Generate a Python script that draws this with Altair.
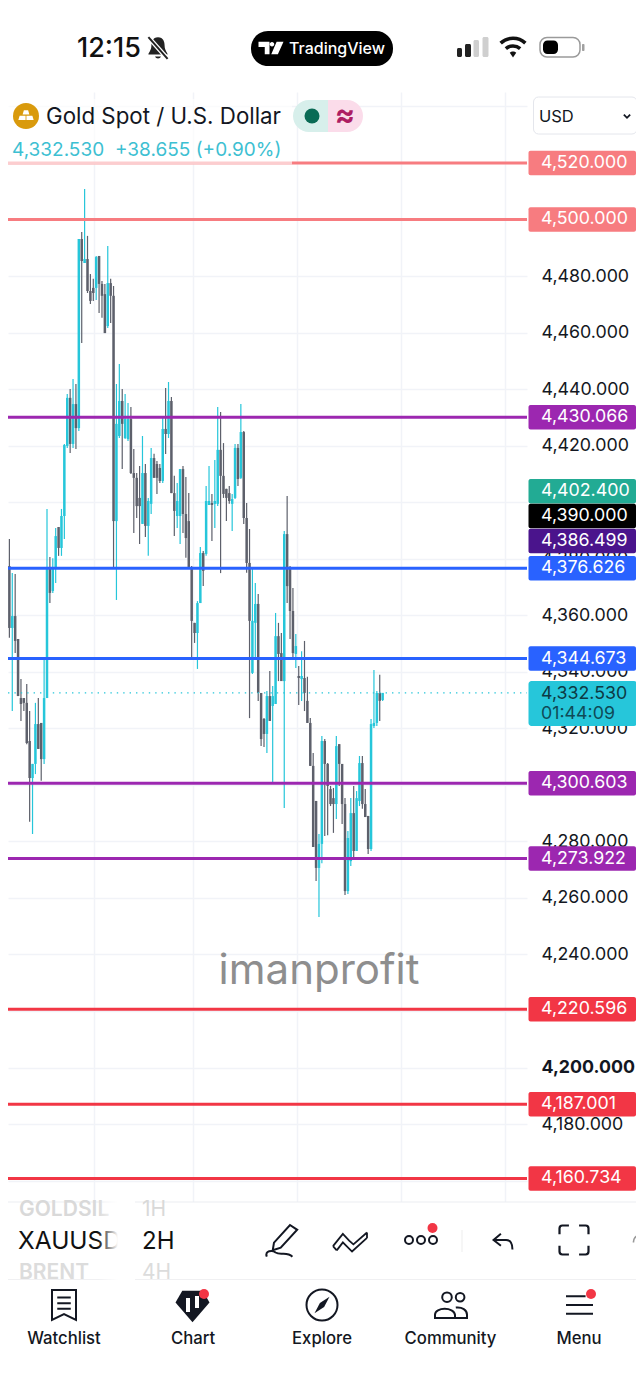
import altair as alt
import pandas as pd

FONT = "Inter"
TEAL = "#26c6da"
GRAY = "#5d606b"
INK = "#131722"

# ---- candles (2H XAUUSD)
opens = [4424.5,4430.5,4371.0,4377.4,4355.5,4359.7,4351.6,4330.7,4330.7,4329.0,4315.5,4302.4,4307.4,4321.5,4321.9,4309.1,4330.7,4376.7,4368.6,4376.4,4391.2,4383.8,4395.1,4419.9,4436.9,4420.6,4434.7,4426.2,4493.1,4484.6,4486.0,4474.7,4475.8,4475.8,4487.1,4477.2,4473.6,4462.3,4477.5,4473.0,4393.3,4423.4,4435.8,4422.7,4422.3,4429.4,4410.3,4408.6,4401.5,4392.3,4410.3,4391.6,4399.4,4415.6,4413.5,4412.1,4407.5,4425.9,4424.1,4435.8,4403.2,4395.1,4395.1,4411.7,4395.8,4393.3,4376.4,4357.3,4353.7,4364.3,4382.0,4381.7,4399.0,4399.7,4399.4,4399.4,4418.5,4409.3,4404.7,4403.2,4399.4,4401.5,4419.2,4408.6,4424.8,4394.4,4378.5,4339.6,4357.3,4364.0,4332.5,4323.3,4318.0,4331.4,4327.9,4328.6,4352.6,4346.6,4336.7,4388.7,4376.7,4361.5,4346.3,4338.5,4337.4,4337.8,4329.7,4321.9,4306.7,4294.3,4270.6,4279.1,4315.5,4307.4,4298.5,4295.3,4293.2,4314.4,4307.4,4293.2,4262.4,4273.0,4290.0,4276.6,4294.3,4307.7,4293.2,4289.0,4277.3,4320.8,4321.9,4332.5,4330.0]
highs = [4445.7,4434.7,4385.6,4387.0,4374.9,4374.6,4351.6,4337.4,4330.7,4335.7,4326.1,4307.4,4329.0,4330.7,4321.9,4344.5,4397.6,4380.6,4380.2,4390.9,4391.2,4397.6,4420.6,4438.3,4440.0,4443.6,4441.8,4493.1,4495.6,4510.8,4494.2,4480.7,4479.0,4487.1,4487.1,4478.2,4477.2,4490.6,4479.0,4476.5,4441.8,4448.9,4440.0,4438.3,4435.1,4433.7,4418.8,4410.3,4412.8,4423.4,4413.5,4401.5,4419.2,4417.1,4414.6,4413.5,4429.8,4440.4,4442.5,4437.2,4409.3,4406.8,4411.7,4412.8,4408.9,4403.2,4377.4,4357.3,4365.0,4384.1,4382.7,4405.7,4412.8,4402.9,4414.9,4433.7,4431.9,4420.9,4404.7,4405.7,4402.9,4420.6,4420.6,4434.7,4425.2,4399.7,4390.5,4376.4,4371.4,4367.5,4332.5,4323.6,4333.2,4340.3,4335.0,4360.8,4357.3,4353.7,4389.8,4402.2,4377.4,4369.6,4353.4,4342.0,4347.3,4350.9,4338.2,4323.6,4311.3,4294.3,4282.6,4317.3,4316.2,4307.7,4299.6,4298.9,4317.3,4314.4,4307.4,4295.3,4283.7,4295.3,4299.6,4297.8,4310.2,4310.2,4298.5,4289.0,4323.3,4340.6,4333.2,4338.9,4332.5]
lows = [4423.4,4369.3,4364.0,4352.0,4326.1,4346.6,4331.4,4322.6,4326.1,4314.4,4286.9,4282.6,4303.8,4312.7,4301.4,4307.4,4330.7,4364.3,4367.9,4371.4,4381.0,4381.0,4387.0,4419.2,4417.4,4419.2,4418.8,4425.2,4456.3,4484.6,4474.0,4470.1,4471.2,4471.5,4466.9,4465.2,4459.8,4461.6,4463.4,4376.7,4365.4,4422.7,4411.7,4422.3,4421.6,4410.0,4389.1,4394.4,4385.2,4392.3,4387.7,4381.0,4395.8,4408.6,4402.9,4406.8,4406.8,4417.0,4422.7,4403.2,4388.0,4390.9,4385.2,4389.1,4380.3,4376.4,4344.5,4350.2,4341.0,4364.3,4370.3,4381.0,4399.0,4386.3,4390.9,4398.6,4374.9,4401.5,4393.3,4399.4,4389.8,4401.1,4405.7,4408.2,4392.3,4375.0,4323.6,4339.2,4344.9,4329.7,4313.7,4313.4,4311.3,4322.6,4300.3,4328.6,4336.7,4336.7,4291.8,4364.3,4351.6,4344.5,4341.3,4328.2,4329.7,4326.1,4321.9,4306.7,4278.0,4266.0,4253.2,4272.3,4281.9,4282.2,4292.5,4283.0,4287.9,4299.6,4286.1,4261.0,4261.4,4271.3,4273.8,4276.6,4292.5,4291.5,4288.6,4275.5,4276.6,4320.1,4320.8,4322.6,4329.7]
closes = [4434.0,4372.1,4378.1,4355.5,4359.7,4350.9,4331.4,4328.6,4329.0,4314.8,4302.4,4307.4,4321.5,4312.7,4309.1,4330.7,4376.4,4367.9,4376.4,4388.0,4383.8,4395.1,4420.2,4436.9,4420.6,4434.7,4426.2,4493.1,4485.3,4486.0,4474.7,4471.2,4474.0,4486.7,4477.2,4473.0,4459.8,4477.5,4473.0,4393.3,4427.7,4435.8,4427.7,4429.4,4429.4,4410.3,4408.6,4398.6,4398.6,4410.3,4391.6,4400.4,4415.6,4408.6,4408.6,4407.5,4425.9,4424.1,4435.8,4403.2,4396.9,4400.4,4411.7,4395.8,4387.3,4376.7,4358.0,4353.7,4364.3,4382.0,4375.7,4400.4,4400.4,4399.0,4400.4,4418.5,4409.3,4402.9,4401.5,4400.4,4401.1,4419.2,4408.2,4424.8,4394.4,4378.5,4358.0,4358.0,4364.0,4332.5,4316.2,4318.0,4331.4,4322.6,4331.4,4352.6,4346.3,4336.7,4388.7,4370.3,4361.5,4346.6,4349.1,4337.8,4338.5,4332.5,4321.9,4306.7,4278.0,4270.6,4279.1,4315.5,4307.4,4299.6,4293.2,4293.2,4313.7,4307.4,4293.2,4262.4,4281.2,4290.0,4276.6,4295.3,4307.7,4293.2,4288.6,4277.3,4321.5,4321.9,4332.5,4329.7,4332.53]

# ---- price levels
line_prices = [4520.000,4500.000,4430.066,4376.626,4344.673,4300.603,4273.922,4220.596,4187.001,4160.734]
line_colors = ["#f77c80","#f77c80","#9c27b0","#2962ff","#2962ff","#9c27b0","#9c27b0","#f23645","#f23645","#f23645"]
tag_labels = ["4,520.000","4,500.000","4,430.066","4,402.400","4,390.000","4,386.499","4,376.626","4,344.673","4,300.603","4,273.922","4,220.596","4,187.001","4,160.734"]
tag_prices = [4520.0,4500.0,4430.066,4403.9,4395.1,4386.3,4376.626,4344.673,4300.603,4273.922,4220.596,4187.001,4160.734]
tag_colors = ["#f77c80","#f77c80","#9c27b0","#22ab94","#000000","#4a148c","#2962ff","#2962ff","#9c27b0","#9c27b0","#f23645","#f23645","#f23645"]
last_price = 4332.530
axis_ticks = [4160,4180,4200,4220,4240,4260,4280,4300,4320,4340,4360,4380,4400,4420,4440,4460,4480,4500,4520,4540]
day_bars = [32.17,66.45,102.4,138.3,174.3]

# ---- scales: plot is page x 8..527 and page y 92..1202
XS = alt.Scale(domain=[2.52, 181.9], nice=False, zero=False, padding=0)
YS = alt.Scale(domain=[4152.42, 4545.1], nice=False, zero=False, padding=0)
PW, PH = 519, 1110
GRID = "#f1f3f8"
LABEL = 17.8

AX = alt.Axis(values=day_bars, grid=True, gridColor=GRID, gridWidth=1.5, labels=False,
              ticks=False, domain=False, title=None)
# labels that sit wholly behind a price tag or the currency box are left blank
AY = alt.Axis(values=axis_ticks, orient="right", grid=True, gridColor=GRID, gridWidth=1.5,
              ticks=False, domain=False, title=None, format=",.3f",
              labelExpr="indexof([4540,4520,4500,4400,4300,4220,4160],datum.value)>=0?'':datum.label",
              labelFont=FONT, labelFontSize=LABEL, labelColor=INK, labelPadding=14,
              labelAlign="left", labelBaseline="middle", labelOverlap=False,
              labelFlush=False, labelFontWeight=alt.expr("datum.value==4200?'bold':'normal'"))

candles = pd.DataFrame({"i": range(len(opens)), "o": opens, "h": highs, "l": lows, "c": closes})
candles["up"] = candles.c >= candles.o
DIR = alt.Color("up:N", scale=alt.Scale(domain=[True, False], range=[TEAL, GRAY]), legend=None)

wicks = alt.Chart(candles).mark_rule(strokeWidth=1.2, clip=True).encode(
    x=alt.X("i:Q", scale=XS, axis=AX), y=alt.Y("l:Q", scale=YS, axis=AY), y2="h:Q", color=DIR)
bodies = alt.Chart(candles).mark_bar(size=2.5, orient="vertical", clip=True).encode(
    x=alt.X("i:Q", scale=XS, axis=AX),
    y=alt.Y("o:Q", scale=YS, axis=AY), y2="c:Q", color=DIR)

lines = alt.Chart(pd.DataFrame({"p": line_prices, "c": line_colors})).mark_rule(strokeWidth=3).encode(
    y=alt.Y("p:Q", scale=YS, axis=AY), x=alt.value(0), x2=alt.value(PW), color=alt.Color("c:N", scale=None))
dotted = alt.Chart(pd.DataFrame({"p": [last_price]})).mark_rule(strokeWidth=1.4, strokeDash=[1.4, 5], color=TEAL).encode(
    y=alt.Y("p:Q", scale=YS, axis=AY), x=alt.value(0), x2=alt.value(PW))

tags = pd.DataFrame({"t": tag_labels, "p": tag_prices, "c": tag_colors})
tag_boxes = alt.Chart(tags).mark_bar(size=24.5, orient="horizontal", cornerRadius=2).encode(
    y=alt.Y("p:Q", scale=YS, axis=AY), x=alt.value(520.5), x2=alt.value(628), color=alt.Color("c:N", scale=None))
tag_text = alt.Chart(tags).mark_text(font=FONT, fontSize=LABEL, align="left", baseline="middle", color="#ffffff").encode(
    y=alt.Y("p:Q", scale=YS, axis=AY), x=alt.value(533), text="t:N")

ONE = alt.Data(values=[{"a": 1}])
def px(v): return alt.value(v - 8)
def py(v): return alt.value(v - 92)

def T(s, x, y, size, color=INK, weight=400, align="left", opacity=1, font=FONT):
    return alt.Chart(ONE).mark_text(text=s, fontSize=size, color=color, fontWeight=weight, align=align,
                                    baseline="middle", opacity=opacity, font=font).encode(x=px(x), y=py(y + 1))

def R(x0, x1, y0, y1, fill, radius=0, stroke=None, sw=1, opacity=1):
    kw = dict(fill=fill, cornerRadius=radius, opacity=opacity)
    if stroke:
        kw.update(stroke=stroke, strokeWidth=sw)
    return alt.Chart(ONE).mark_rect(**kw).encode(x=px(x0), x2=px(x1), y=py(y0), y2=py(y1))

def G(path, x, y, w, fill=None, stroke=None, sw=2):
    kw = dict(shape=path, size=w * w, opacity=1)
    if fill:
        kw.update(filled=True, fill=fill, strokeWidth=0)
    else:
        kw.update(filled=False, stroke=stroke or INK, strokeWidth=sw, fill="transparent")
    return alt.Chart(ONE).mark_point(**kw).encode(x=px(x), y=py(y))

def C(x, y, d, fill=None, stroke=None, sw=2):
    return G("circle", x, y, d, fill=fill, stroke=stroke, sw=sw)

fade = alt.Gradient(gradient="linear", x1=0, x2=1, y1=0, y2=0,
                    stops=[alt.GradientStop(offset=0, color="rgba(255,255,255,0)"),
                           alt.GradientStop(offset=1, color="#ffffff")])

chrome = [
    # status bar
    T("12:15", 77, 48, 27, "#111111", 500),
    G("M0,-0.9C-0.45,-0.9 -0.55,-0.5 -0.55,-0.2C-0.55,0.2 -0.8,0.4 -0.8,0.55L0.8,0.55C0.8,0.4 0.55,0.2 0.55,-0.2C0.55,-0.5 0.45,-0.9 0,-0.9Z M-0.25,0.7A0.27,0.27 0 0 0 0.25,0.7Z", 158, 48, 24, fill="#222222"),
    G("M-0.8,-0.9L0.8,0.9", 158, 48, 24, stroke="#ffffff", sw=4.5),
    G("M-0.8,-0.9L0.8,0.9", 158, 48, 24, stroke="#222222", sw=2),
    R(251, 393, 31, 66, "#000000", radius=17),
    G("M-1,-0.5H-0.12V0.5H-0.5V-0.08H-1Z M-0.1,-0.3A0.18,0.18 0 1 0 0.26,-0.3A0.18,0.18 0 1 0 -0.1,-0.3Z M0.45,-0.5H1L0.55,0.5H0.02Z", 271, 48, 25, fill="#ffffff"),
    T("TradingView", 289, 47.5, 16, "#ffffff", 500),
    R(457, 462, 48, 57, "#222222", radius=1.5),
    R(465, 471, 44, 57, "#222222", radius=1.5),
    R(473.5, 479, 40, 57, "#cfcfcf", radius=1.5),
    R(482.5, 488.5, 37, 57, "#cfcfcf", radius=1.5),
    G("M-0.95,-0.3A1.4,1.4 0 0 1 0.95,-0.3 M-0.55,0.12A0.85,0.85 0 0 1 0.55,0.12", 513, 47, 26, stroke="#111111", sw=3.6),
    G("M-0.25,0.45L0,0.8L0.25,0.45A0.35,0.35 0 0 0 -0.25,0.45Z", 513, 47, 26, fill="#111111"),
    R(540, 580, 37.5, 57, "#ffffff", radius=7, stroke="#9a9a9a", sw=1.5),
    R(543, 558, 40.5, 54, "#000000", radius=4.5),
    R(582, 584.5, 44, 51, "#a0a0a0", radius=1),
    # legend
    R(8, 292, 99, 164.5, "#ffffff", opacity=0.62),
    C(26, 116, 26, fill="#d99a0c"),
    G("M-0.25,-0.55H0.25L0.4,-0.05H-0.4Z M-0.75,0.1H-0.05V0.6H-0.9Z M0.05,0.1H0.75L0.9,0.6H0.05Z", 26, 115, 17, fill="#ffffff"),
    T("Gold Spot / U.S. Dollar", 46, 115.5, 22.3, INK),
    R(293, 345, 100, 132, "#d7efeb", radius=16),
    R(328, 363, 100, 132, "#fbdcea", radius=16),
    R(328, 345, 100, 132, "#fbdcea"),
    C(312, 116, 15, fill="#0a6b55"),
    T("≈", 345, 114.5, 30, "#ad1d63", 700, align="center"),
    T("4,332.530", 12, 149, 19, "#3dbfd2"),
    T("+38.655 (+0.90%)", 115, 149, 19, "#3dbfd2"),
    R(533.5, 637, 97, 134, "#ffffff", radius=5, stroke="#e4e6ec"),
    T("USD", 539, 115.5, 16.5, INK),
    G("M-0.7,-0.3L0,0.4L0.7,-0.3", 627, 116, 9, stroke=INK, sw=1.8),
    # current-price tag
    R(528.5, 637, 681, 726, TEAL, radius=3),
    T("4,332.530", 541, 692.5, LABEL, "#0d3a44"),
    T("01:44:09", 541, 712.5, LABEL, "#0f4a57"),
    # watermark
    T("imanprofit", 319, 970, 42, "#8e8e8e", 400, align="center"),
    # toolbar
    R(0, 644, 1202, 1400, "#ffffff"),
    R(8, 644, 1201.5, 1202.5, "#eceef2"),
    R(8, 644, 1279, 1280, "#f0f0f2"),
    T("GOLDSIL", 19, 1209, 21, "#d9d9d9", 600),
    T("BRENT", 19, 1271.5, 21, "#dcdcdc", 600),
    T("XAUUSD", 18, 1240.5, 24.5, "#111111"),
    alt.Chart(ONE).mark_rect(fill=fade).encode(x=px(98), x2=px(118), y=py(1195), y2=py(1285)),
    R(118, 135, 1195, 1285, "#ffffff"),
    T("1H", 142, 1209, 21, "#d9d9d9"),
    T("2H", 142, 1240.5, 24, "#111111"),
    T("4H", 142, 1271.5, 21, "#dcdcdc"),
    G("M0.5,-1L0.95,-0.7L-0.08,0.42L-0.58,0.58L-0.5,0.1Z M-0.95,0.98C-1.1,0.6 -0.6,0.55 -0.4,0.72C-0.1,0.92 0.3,0.62 0.65,0.98", 282, 1241, 32, stroke=INK, sw=2),
    G("M-1,0.3L-0.42,-0.42L-0.05,-0.02L0.2,0.2L1,-0.5 M-0.78,0.55L-0.42,0.08L0.12,0.62L1,-0.18 M-1,0.3L-0.78,0.55 M1,-0.5L1,-0.18", 350, 1241, 34, stroke=INK, sw=1.8),
    C(409, 1240, 8, stroke=INK),
    C(421, 1240, 8, stroke=INK),
    C(433, 1240, 8, stroke=INK),
    C(432.5, 1228, 10, fill="#f23645"),
    R(461.5, 462.5, 1230, 1252, "#eeeeee"),
    G("M-0.2,-0.7L-0.9,-0.1L-0.2,0.45 M-0.9,-0.1H0.3C0.8,-0.1 0.9,0.3 0.9,0.8", 503, 1241, 21, stroke=INK, sw=2),
    G("M-1,-0.4V-0.8Q-1,-1 -0.8,-1H-0.35 M0.35,-1H0.8Q1,-1 1,-0.8V-0.4 M1,0.4V0.8Q1,1 0.8,1H0.35 M-0.35,1H-0.8Q-1,1 -1,0.8V0.4", 574, 1240, 29, stroke=INK, sw=2.2),
    G("M0.3,-1A1.4,1.4 0 0 0 -0.9,0.5", 638, 1240, 10, stroke="#999999", sw=1.6),
    # tab bar
    G("M-0.8,-1H0.8V1L0,0.6L-0.8,1Z M-0.45,-0.5H0.45 M-0.45,-0.12H0.45 M-0.45,0.25H0.45", 64, 1305, 30, stroke=INK, sw=2),
    G("M-0.6,-0.9H0.6L1,-0.2L0,0.95L-1,-0.2Z", 192.5, 1306, 34, fill=INK),
    R(186, 190, 1298, 1312, "#ffffff"),
    R(195, 199, 1296, 1308, "#ffffff"),
    C(204, 1294, 10, fill="#f23645"),
    C(322, 1305, 31, stroke=INK, sw=2),
    G("M0.5,-0.55L0.14,0.14L-0.5,0.55L-0.14,-0.14Z", 322, 1305, 30, fill=INK),
    G("M-0.55,-0.55A0.3,0.3 0 1 1 0.05,-0.55A0.3,0.3 0 1 1 -0.55,-0.55Z M0.3,-0.55A0.27,0.27 0 1 1 0.84,-0.55A0.27,0.27 0 1 1 0.3,-0.55Z M-1,0.75V0.55C-1,0.05 0.2,0.05 0.25,0.55V0.75Z M0.3,0.1C0.7,0.05 1,0.25 1,0.55V0.75H0.3", 451, 1306, 32, stroke=INK, sw=2),
    G("M-1,-0.65H0.45 M-1,0H1 M-1,0.65H1", 579.5, 1305, 27, stroke=INK, sw=2),
    C(591, 1294, 10, fill="#f23645"),
    T("Watchlist", 64, 1338, 16.7, INK, 500, align="center"),
    T("Chart", 193, 1338, 16.7, INK, 500, align="center"),
    T("Explore", 322, 1338, 16.7, INK, 500, align="center"),
    T("Community", 450.5, 1338, 16.7, INK, 500, align="center"),
    T("Menu", 579, 1338, 16.7, INK, 500, align="center"),
]

chart = alt.layer(wicks, bodies, lines, dotted, tag_boxes, tag_text, *chrome).properties(
    width=PW, height=PH, background="#ffffff",
    padding={"left": 0, "top": 84, "right": 109, "bottom": 190},
    autosize=alt.AutoSizeParams(type="none"),
).configure_view(stroke=None)

chart.save("out.html", embed_options={"renderer": "svg", "actions": False})
